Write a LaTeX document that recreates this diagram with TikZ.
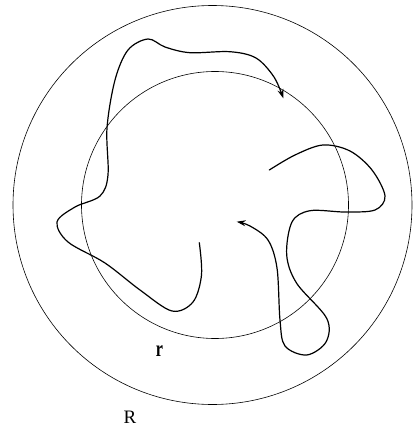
\documentclass[tikz,border=0pt]{standalone}
\usepackage{fontspec}
\setmainfont{Liberation Serif}
\usetikzlibrary{arrows.meta}
\tikzset{
  ring/.style={draw=black, line width=0.6pt},
  walk/.style={draw=black, line width=1.2pt, line cap=round, line join=round},
  walkend/.style={-{Stealth[length=9pt,width=6pt,inset=3pt]}},
  lbl/.style={inner sep=0pt, font=\fontsize{19}{21}\selectfont}
}
\begin{document}
\begin{tikzpicture}[x=1pt,y=-1pt]
\useasboundingbox (0,0) rectangle (412,428);
% circles
\node[circle, ring, minimum size=399pt, inner sep=0pt] (outer) at (212.5,205) {};
\node[circle, ring, minimum size=267pt, inner sep=0pt] (inner) at (215,205) {};
% curve 1
\draw[walk, walkend] plot[smooth, tension=0.55] coordinates {
 (199.3,242.7) (201.5,275) (193,302) (172,311) (140,290) (105,263)
 (68,242) (57,222) (75,207) (100,196) (108,175) (107,128) (115,80)
 (128,50) (148,39) (165,47) (190,52.7) (230,51.7) (256,58) (274,77)
 (283.3,98.3)};
% curve 2
\draw[walk, walkend] plot[smooth, tension=0.55] coordinates {
 (269.3,170) (295,155) (323,145) (350,151) (372,170) (385,196)
 (375,210) (345,212) (310,210.7) (292,222) (286.7,255) (296.7,283.3)
 (326.7,318.3) (326,342) (306.7,355) (285,346) (280,320) (277,268)
 (268,240) (250,226) (236.7,221.7)};
% labels
\node[lbl] (rlab) at (159.5,351.5) {\scalebox{0.85}[1.2]{\bfseries r}};
\node[lbl] (Rlab) at (130,417.5) {R};
\end{tikzpicture}
\end{document}
